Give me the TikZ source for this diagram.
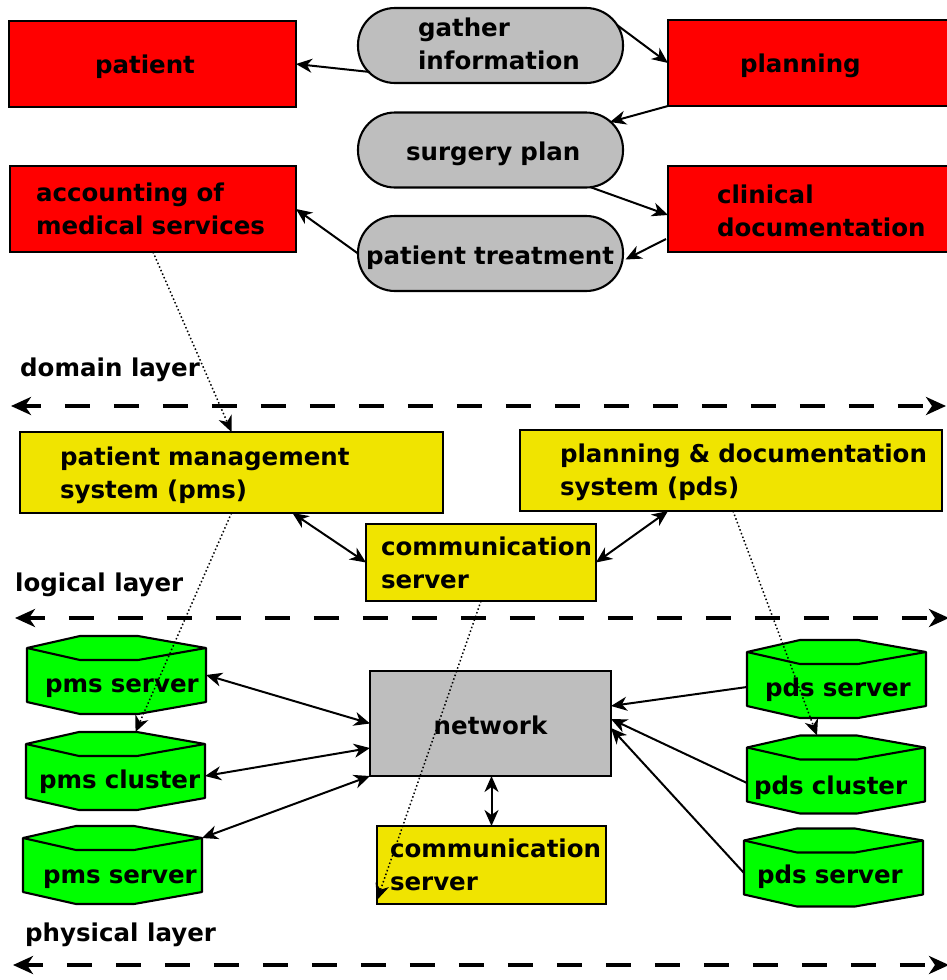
\documentclass[tikz,border=0pt]{standalone}
\usepackage{fontspec}
\setmainfont{DejaVu Sans}
\usetikzlibrary{arrows.meta,calc,backgrounds}
\hyphenpenalty=10000
\exhyphenpenalty=10000
\definecolor{boxred}{RGB}{255,0,0}
\definecolor{boxyellow}{RGB}{240,228,0}
\definecolor{pillgray}{RGB}{190,190,190}
\definecolor{diskgreen}{RGB}{0,255,0}
\newcommand\lblfont{\fontsize{24.5pt}{33.4pt}\selectfont\bfseries}
% server / cluster disk drawn around the body rectangle of a node
\newcommand\drawdisk[1]{%
  \draw[diskline, fill=diskgreen] (#1.north west) -- ($(#1.north west)+(53,-12)$)
    -- ($(#1.north east)+(-68,-12)$) -- (#1.north east) -- (#1.south east)
    -- ($(#1.south east)+(-68,12)$) -- ($(#1.south west)+(53,12)$)
    -- (#1.south west) -- cycle;
  \draw[diskline] (#1.north west) -- ($(#1.north west)+(53,12)$)
    -- ($(#1.north east)+(-68,12)$) -- (#1.north east);
}
\begin{document}
\begin{tikzpicture}[x=1pt,y=-1pt,
  base/.style={draw, line width=2.1pt, outer sep=0pt, font=\lblfont, align=left},
  % first baseline placed #1 below the node centre
  bl/.style={text height={20pt+(#1pt)}, text depth={20pt-(#1pt)}},
  tbox/.style n args={3}{base, rectangle, minimum width=#1pt, minimum height=#2pt,
    inner xsep=#3pt, inner ysep=0pt, text width={#1pt-2*#3pt}},
  pill/.style={tbox={265}{75}{#1}, fill=pillgray, rounded corners=37pt},
  disk/.style n args={3}{base, draw=none, rectangle, minimum width=#1pt,
    minimum height=54pt, inner ysep=0pt, inner xsep=#2pt,
    text width={#1pt-2*#2pt}, bl=#3},
  diskline/.style={draw=black, line width=2.1pt, line join=round},
  layerlabel/.style={font=\lblfont, anchor=west, inner sep=0pt},
  ctip/.tip={Stealth[length=16pt,width=14pt,inset=5pt]},
  ltip/.tip={Stealth[length=20pt,width=18pt,inset=6pt]},
  arr/.style={-ctip},
  darr/.style={ctip-ctip},
  conn/.style={line width=2pt},
  dotconn/.style={line width=1.5pt, dash pattern=on 1.5pt off 2.4pt},
  layerline/.style={line width=4.5pt, dash pattern=on 25pt off 24pt, dash phase=8pt, ltip-ltip},
]
\useasboundingbox (0,0) rectangle (947,980);
\clip (0,0) rectangle (947,980);

% domain layer
\node[tbox={287}{86}{86}, bl=9.5, fill=boxred] (pt) at (152.5,64) {patient};
\node[tbox={283}{86}{72}, bl=9.7, fill=boxred] (pl) at (809.5,63) {planning};
\node[tbox={286}{86}{26}, bl=-8, fill=boxred] (ac) at (153,209) {accounting~of\\medical~services};
\node[tbox={283}{86}{49}, bl=-5.5, fill=boxred] (cd) at (809.5,209) {clinical\\documentation};
\node[pill=60, bl=-9] (g) at (490.5,45.5) {gather\\information};
\node[pill=48, bl=10] (s) at (490.5,150) {surgery~plan};
\node[pill=8, bl=10.5] (ptr) at (490.5,253.5) {patient~treatment};

% logical layer
\node[tbox={423}{81}{40}, bl=-7.5, fill=boxyellow] (pms) at (231.5,472.5) {patient~management\\system~(pms)};
\node[tbox={422}{81}{40}, bl=-8.5, fill=boxyellow] (pds) at (731,470.5) {planning~\&~documentation\\system~(pds)};
\node[tbox={230}{77}{15}, bl=-7.5, fill=boxyellow] (cl) at (481,562.5) {communication\\server};

% physical layer
\node[base, fill=pillgray, minimum width=241pt, minimum height=105pt, align=center, bl=11] (nw) at (490.5,723.5) {network};
\node[tbox={229}{78}{13}, bl=-7.5, fill=boxyellow] (cp) at (491.5,865) {communication\\server};
\node[disk={179}{18}{17}] (ps1) at (116.5,675) {pms~server};
\node[disk={179}{13}{17}] (pc) at (115.5,771) {pms~cluster};
\node[disk={179}{20}{18.5}] (ps2) at (112.5,865) {pms~server};
\node[disk={179}{18}{17.5}] (ds1) at (836.5,679) {pds~server};
\node[disk={178}{7}{20.5}] (dc) at (836,774.5) {pds~cluster};
\node[disk={179}{13}{16}] (ds2) at (833.5,867.5) {pds~server};

\begin{scope}[on background layer]
  \foreach \n in {ps1,pc,ps2,ds1,dc,ds2} {\drawdisk{\n}}
\end{scope}

% layer labels and separators
\node[layerlabel] (dl) at (20,370) {domain layer};
\node[layerlabel] (ll) at (15,585) {logical layer};
\node[layerlabel] (yl) at (25,935) {physical layer};
\coordinate (s1a) at (11,406);  \coordinate (s1b) at (946,406);
\coordinate (s2a) at (15,618);  \coordinate (s2b) at (949,618);
\coordinate (s3a) at (13,965);  \coordinate (s3b) at (949,965);
\draw[layerline] (s1a) -- (s1b);
\draw[layerline] (s2a) -- (s2b);
\draw[layerline] (s3a) -- (s3b);

% workflow connectors
\draw[conn,arr] ($(g.center)+(-120.5,26.5)$) -- (pt.east);
\draw[conn,arr] ($(g.center)+(126.5,-20.5)$) -- (pl.west);
\draw[conn,arr] (pl.south west) -- ($(s.center)+(119.5,-28)$);
\draw[conn,arr] ($(s.center)+(99.5,37)$) -- ($(cd.west)+(0,6)$);
\draw[conn,arr] ($(cd.west)+(-2,30)$) -- ($(ptr.center)+(135,6)$);
\draw[conn,arr] (ptr.west) -- (ac.east);

% realisation links between layers
\draw[dotconn,arr] (ac.south) -- (pms.north);
\draw[dotconn,arr] (pms.south) -- ($(pc.north)+(20,-12)$);
\draw[dotconn,arr] ($(pds.south)+(2,0)$) -- ($(dc.north)+(-19,-12)$);
\draw[dotconn,arr] (cl.south) -- ($(cp.south west)+(0,-4)$);

% system connections
\draw[conn,darr] ($(pms.south)+(61,0)$) -- (cl.west);
\draw[conn,darr] (cl.east) -- ($(pds.south west)+(148,0)$);
\draw[conn,darr] (ps1.east) -- (nw.west);
\draw[conn,darr] ($(pc.east)+(0,5)$) -- ($(nw.west)+(0,24.5)$);
\draw[conn,darr] (ps2.north east) -- (nw.south west);
\draw[conn,darr] ($(nw.south)+(1,0)$) -- (cp.north);
\draw[conn,arr] ($(ds1.west)+(0,8)$) -- ($(nw.east)+(0,-17.5)$);
\draw[conn,arr] ($(dc.west)+(0,8.5)$) -- ($(nw.east)+(0,-4.5)$);
\draw[conn,arr] ($(ds2.west)+(0,5.5)$) -- ($(nw.east)+(0,4.5)$);
\end{tikzpicture}
\end{document}
